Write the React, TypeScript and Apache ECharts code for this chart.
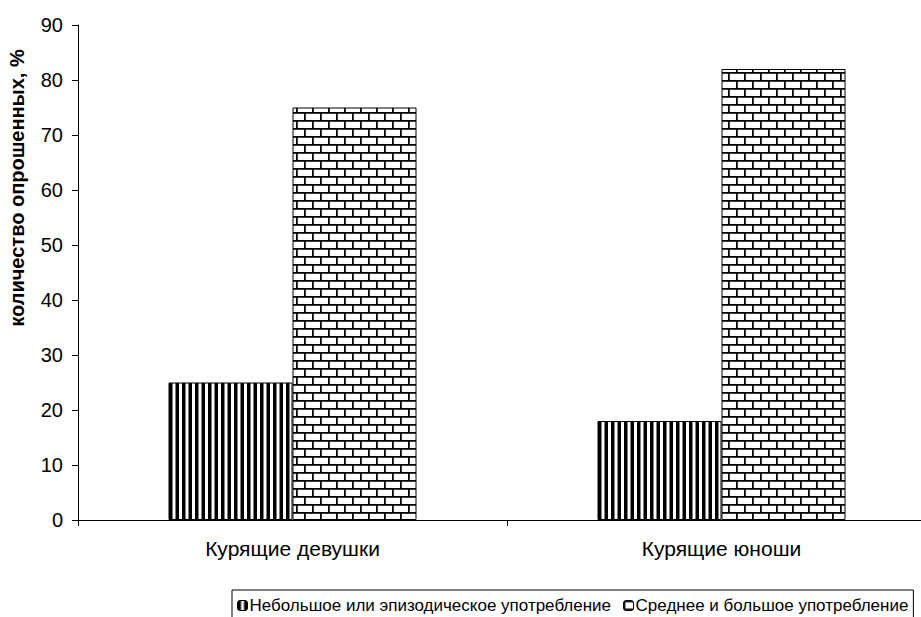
import React, { useEffect, useRef } from "react";
import * as echarts from "echarts";

const categories = ["Курящие девушки", "Курящие юноши"];
const seriesNames = [
  "Небольшое или эпизодическое употребление",
  "Среднее и большое употребление",
];
const smallUse = [25, 18];
const largeUse = [75, 82];
const yTicks = { min: 0, max: 90, interval: 10 };
const yAxisTitle = "количество опрошенных, %";

function stripePattern(): string {
  const c = document.createElement("canvas");
  c.width = 13;
  c.height = 4;
  const ctx = c.getContext("2d")!;
  ctx.fillStyle = "#fff";
  ctx.fillRect(0, 0, 13, 4);
  ctx.fillStyle = "#000";
  ctx.fillRect(0, 0, 3.5, 4);
  ctx.fillRect(6.5, 0, 3.5, 4);
  return c.toDataURL();
}

function brickPattern(): string {
  const w = 16;
  const h = 16;
  const c = document.createElement("canvas");
  c.width = w;
  c.height = h;
  const ctx = c.getContext("2d")!;
  ctx.fillStyle = "#fff";
  ctx.fillRect(0, 0, w, h);
  ctx.fillStyle = "#777";
  ctx.fillRect(0, 1, w, 1);
  ctx.fillRect(0, 9, w, 1);
  ctx.fillRect(1, 0, 1, 9);
  ctx.fillRect(9, 8, 1, 8);
  ctx.fillStyle = "#000";
  ctx.fillRect(0, 0, w, 1.5);
  ctx.fillRect(0, 8, w, 1.5);
  ctx.fillRect(0, 0, 1.5, 8);
  ctx.fillRect(8, 8, 1.5, 8);
  return c.toDataURL();
}

export default function App() {
  const ref = useRef<HTMLDivElement>(null);
  useEffect(() => {
    if (!ref.current) return;
    const chart = echarts.init(ref.current, null, { renderer: "svg" });
    const stripes = { image: stripePattern(), repeat: "repeat" } as any;
    const bricks = { image: brickPattern(), repeat: "repeat" } as any;
    const font = "Liberation Sans, Arial, sans-serif";
    chart.setOption({
      animation: false,
      backgroundColor: "#fff",
      textStyle: { fontFamily: font, color: "#000" },
      grid: { left: 78, right: 0, top: 25, bottom: 97, containLabel: false },
      legend: {
        left: 232,
        top: 590,
        width: 700,
        orient: "horizontal",
        borderColor: "#000",
        borderWidth: 1,
        borderRadius: 0,
        padding: [7, 5, 8, 5],
        itemWidth: 10,
        itemHeight: 10,
        itemGap: 12,
        textStyle: { fontFamily: font, fontSize: 17, color: "#000", padding: [0, 0, 0, -3] },
        data: seriesNames.map((n, i) => ({
          name: n,
          itemStyle: { color: i === 0 ? stripes : bricks, borderColor: "#000", borderWidth: 1 },
        })),
      },
      graphic: [
        {
          type: "text",
          x: 17,
          y: 188,
          rotation: Math.PI / 2,
          style: {
            text: yAxisTitle,
            fontFamily: font,
            fontSize: 20,
            fontWeight: "bold",
            fill: "#000",
            align: "center",
            verticalAlign: "middle",
          },
        },
      ],
      xAxis: {
        type: "category",
        data: categories,
        axisLine: { lineStyle: { color: "#000", width: 1 } },
        axisTick: { show: true, length: 6, lineStyle: { color: "#000" } },
        axisLabel: { color: "#000", fontSize: 21, fontFamily: font, margin: 18 },
        splitLine: { show: false },
      },
      yAxis: {
        type: "value",
        min: yTicks.min,
        max: yTicks.max,
        interval: yTicks.interval,
        axisLine: { show: true, lineStyle: { color: "#000", width: 1 } },
        axisTick: { show: true, length: 6, lineStyle: { color: "#000" } },
        axisLabel: { color: "#000", fontSize: 20, fontFamily: font, margin: 15 },
        splitLine: { show: false },
      },
      series: [
        {
          name: seriesNames[0],
          type: "bar",
          data: smallUse,
          barWidth: 124,
          barGap: "0%",
          itemStyle: { color: stripes, borderColor: "#000", borderWidth: 1 },
        },
        {
          name: seriesNames[1],
          type: "bar",
          data: largeUse,
          barWidth: 124,
          barGap: "0%",
          itemStyle: { color: bricks, borderColor: "#000", borderWidth: 1 },
        },
      ],
    });
    return () => chart.dispose();
  }, []);
  return (
    <div style={{ position: "fixed", left: 0, top: 0, width: 921, height: 617, overflow: "hidden", background: "#fff" }}>
      <div ref={ref} style={{ width: 936, height: 617 }} />
    </div>
  );
}
